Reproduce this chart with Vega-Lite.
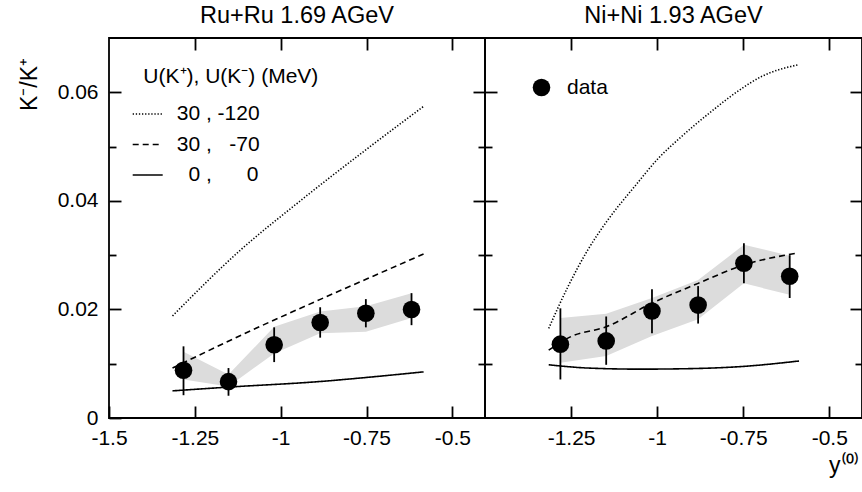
{
  "$schema": "https://vega.github.io/schema/vega-lite/v6.json",
  "autosize": {"type": "pad"},
  "padding": {"left": 17, "top": 2, "right": 0, "bottom": 0},
  "background": "#ffffff",
  "spacing": 0,
  "bounds": "flush",
  "config": {
    "font": "Liberation Sans",
    "view": {"stroke": "#000000", "strokeWidth": 1.8},
    "axis": {"domain": false, "grid": false, "tickColor": "#000000", "tickWidth": 1.8, "labelColor": "#000000", "labelFontSize": 21, "labelFont": "Liberation Sans", "labelFlush": false, "labelOverlap": false, "titleFontWeight": "normal", "titleColor": "#000000", "titleFont": "Liberation Sans"},
    "legend": {"labelFont": "Liberation Sans", "titleFont": "Liberation Sans", "labelColor": "#000000", "titleColor": "#000000", "labelFontSize": 21, "titleFontSize": 21, "titleFontWeight": "normal", "padding": 0, "titleLimit": 400, "labelLimit": 300},
    "title": {"font": "Liberation Sans", "fontSize": 23.5, "fontWeight": "normal", "color": "#000000", "baseline": "alphabetic", "offset": 10, "anchor": "middle"}
  },
  "datasets": {
    "ru_pts": [
      {"x": -1.283, "ratio": 0.0088, "err_lo": 0.0042, "err_hi": 0.0132, "band_lo": 0.0071, "band_hi": 0.0122, "kind": "data"},
      {"x": -1.152, "ratio": 0.0067, "err_lo": 0.0041, "err_hi": 0.0092, "band_lo": 0.0058, "band_hi": 0.0080, "kind": "data"},
      {"x": -1.019, "ratio": 0.0135, "err_lo": 0.0103, "err_hi": 0.0167, "band_lo": 0.0119, "band_hi": 0.0168, "kind": "data"},
      {"x": -0.885, "ratio": 0.0176, "err_lo": 0.0148, "err_hi": 0.0204, "band_lo": 0.0156, "band_hi": 0.0196, "kind": "data"},
      {"x": -0.752, "ratio": 0.0193, "err_lo": 0.0167, "err_hi": 0.0219, "band_lo": 0.0159, "band_hi": 0.0206, "kind": "data"},
      {"x": -0.619, "ratio": 0.0200, "err_lo": 0.0171, "err_hi": 0.0230, "band_lo": 0.0184, "band_hi": 0.0230, "kind": "data"}
    ],
    "ni_pts": [
      {"x": -1.281, "ratio": 0.0136, "err_lo": 0.0071, "err_hi": 0.0202, "band_lo": 0.0102, "band_hi": 0.0184, "kind": "data"},
      {"x": -1.148, "ratio": 0.0142, "err_lo": 0.0098, "err_hi": 0.0187, "band_lo": 0.0114, "band_hi": 0.0192, "kind": "data"},
      {"x": -1.015, "ratio": 0.0197, "err_lo": 0.0156, "err_hi": 0.0237, "band_lo": 0.0151, "band_hi": 0.0221, "kind": "data"},
      {"x": -0.881, "ratio": 0.0208, "err_lo": 0.0174, "err_hi": 0.0243, "band_lo": 0.0182, "band_hi": 0.0254, "kind": "data"},
      {"x": -0.748, "ratio": 0.0285, "err_lo": 0.0248, "err_hi": 0.0322, "band_lo": 0.0248, "band_hi": 0.0319, "kind": "data"},
      {"x": -0.615, "ratio": 0.0261, "err_lo": 0.0221, "err_hi": 0.0300, "band_lo": 0.0227, "band_hi": 0.0299, "kind": "data"}
    ],
    "ru_lines": [
      {"model": "30,-120", "x": -1.315, "ratio": 0.0188},
      {"model": "30,-120", "x": -1.116, "ratio": 0.0310},
      {"model": "30,-120", "x": -0.951, "ratio": 0.0396},
      {"model": "30,-120", "x": -0.75, "ratio": 0.0495},
      {"model": "30,-120", "x": -0.584, "ratio": 0.0574},
      {"model": "30,-70", "x": -1.315, "ratio": 0.0092},
      {"model": "30,-70", "x": -1.1, "ratio": 0.0157},
      {"model": "30,-70", "x": -0.883, "ratio": 0.0219},
      {"model": "30,-70", "x": -0.75, "ratio": 0.0256},
      {"model": "30,-70", "x": -0.584, "ratio": 0.0302},
      {"model": "0,0", "x": -1.315, "ratio": 0.0050},
      {"model": "0,0", "x": -1.15, "ratio": 0.0057},
      {"model": "0,0", "x": -0.89, "ratio": 0.0067},
      {"model": "0,0", "x": -0.745, "ratio": 0.0075},
      {"model": "0,0", "x": -0.584, "ratio": 0.0085}
    ],
    "ni_lines": [
      {"model": "30,-120", "x": -1.315, "ratio": 0.0165},
      {"model": "30,-120", "x": -1.259, "ratio": 0.0242},
      {"model": "30,-120", "x": -1.201, "ratio": 0.0310},
      {"model": "30,-120", "x": -1.143, "ratio": 0.0365},
      {"model": "30,-120", "x": -1.066, "ratio": 0.0426},
      {"model": "30,-120", "x": -0.997, "ratio": 0.0478},
      {"model": "30,-120", "x": -0.930, "ratio": 0.0518},
      {"model": "30,-120", "x": -0.842, "ratio": 0.0565},
      {"model": "30,-120", "x": -0.770, "ratio": 0.0600},
      {"model": "30,-120", "x": -0.697, "ratio": 0.0629},
      {"model": "30,-120", "x": -0.588, "ratio": 0.0651},
      {"model": "30,-70", "x": -1.315, "ratio": 0.0125},
      {"model": "30,-70", "x": -1.25, "ratio": 0.0150},
      {"model": "30,-70", "x": -1.148, "ratio": 0.0168},
      {"model": "30,-70", "x": -1.017, "ratio": 0.0211},
      {"model": "30,-70", "x": -0.881, "ratio": 0.0248},
      {"model": "30,-70", "x": -0.748, "ratio": 0.0282},
      {"model": "30,-70", "x": -0.59, "ratio": 0.0304},
      {"model": "0,0", "x": -1.315, "ratio": 0.0098},
      {"model": "0,0", "x": -1.2, "ratio": 0.0092},
      {"model": "0,0", "x": -1.05, "ratio": 0.0090},
      {"model": "0,0", "x": -0.9, "ratio": 0.0091},
      {"model": "0,0", "x": -0.75, "ratio": 0.0095},
      {"model": "0,0", "x": -0.588, "ratio": 0.0105}
    ]
  },
  "hconcat": [
    {
      "width": 376,
      "height": 380,
      "title": {"text": "Ru+Ru 1.69 AGeV"},
      "layer": [
        {
          "layer": [
            {
              "data": {"name": "ru_pts"},
              "mark": {"type": "area", "color": "#dcdcdc"},
              "encoding": {
                "x": {"field": "x", "type": "quantitative", "scale": {"domain": [-1.5, -0.405], "nice": false, "zero": false},
                  "axis": {"orient": "bottom", "values": [-1.5, -1.25, -1, -0.75, -0.5], "tickSize": -12, "labelPadding": 21, "labelExpr": "'' + datum.value", "title": null}},
                "y": {"field": "band_lo", "type": "quantitative", "scale": {"domain": [0, 0.07], "nice": false},
                  "axis": {"orient": "left", "values": [0, 0.01, 0.02, 0.03, 0.04, 0.05, 0.06],
                    "tickSize": {"condition": {"test": "round(datum.value*100) % 2 == 0", "value": -12}, "value": -7},
                    "labelPadding": 23, "labelExpr": "round(datum.value*100) % 2 == 0 ? '' + datum.value : ''",
                    "title": "K⁻/K⁺", "titleFontSize": 23, "titleX": -80, "titleY": 46, "titleAngle": -90, "titleAlign": "center", "titleBaseline": "middle"}},
                "y2": {"field": "band_hi"}
              }
            },
            {
              "data": {"name": "ru_lines"},
              "mark": {"type": "line", "color": "#000000", "strokeWidth": 1.6, "interpolate": "monotone"},
              "encoding": {
                "x": {"field": "x", "type": "quantitative"},
                "y": {"field": "ratio", "type": "quantitative"},
                "strokeDash": {"field": "model", "type": "nominal",
                  "scale": {"domain": ["30,-120", "30,-70", "0,0"], "range": [[1.3, 1.8], [6, 4], [1, 0]]},
                  "legend": {"orient": "none", "legendX": 22.7, "legendY": 28, "title": "\u200b\u00a0\u00a0U(K⁺), U(K⁻) (MeV)", "titlePadding": 11, "titleLimit": 400,
                    "symbolType": "stroke", "symbolSize": 900, "symbolStrokeColor": "#000000", "symbolStrokeWidth": 1.6,
                    "labelOffset": 13, "rowPadding": 4.5,
                    "labelExpr": "datum.label == '30,-120' ? '30 , -120' : datum.label == '30,-70' ? '30 , \u2007-70' : '\u200b\u20070 , \u2007\u2007\u20080'"}
                }
              }
            },
            {
              "data": {"name": "ru_pts"},
              "mark": {"type": "rule", "color": "#000000", "strokeWidth": 1.8},
              "encoding": {
                "x": {"field": "x", "type": "quantitative"},
                "y": {"field": "err_lo", "type": "quantitative"},
                "y2": {"field": "err_hi"}
              }
            },
            {
              "data": {"name": "ru_pts"},
              "mark": {"type": "point", "filled": true, "color": "#000000", "size": 310, "opacity": 1},
              "encoding": {
                "x": {"field": "x", "type": "quantitative"},
                "y": {"field": "ratio", "type": "quantitative"},
                "shape": {"field": "kind", "type": "nominal", "scale": {"range": ["circle"]}, "legend": null}
              }
            }
          ]
        },
        {
          "data": {"name": "ru_pts"},
          "mark": {"type": "point", "opacity": 0},
          "encoding": {
            "x": {"field": "x", "type": "quantitative", "scale": {"domain": [-1.5, -0.405], "nice": false, "zero": false},
              "axis": {"orient": "top", "values": [-1.25, -1, -0.75, -0.5], "tickSize": -12, "labels": false, "title": null}},
            "y": {"field": "ratio", "type": "quantitative", "scale": {"domain": [0, 0.07], "nice": false},
              "axis": {"orient": "right", "values": [0.01, 0.02, 0.03, 0.04, 0.05, 0.06],
                "tickSize": {"condition": {"test": "round(datum.value*100) % 2 == 0", "value": -12}, "value": -7},
                "labels": false, "title": null}}
          }
        }
      ],
      "resolve": {"scale": {"x": "independent", "y": "independent"}}
    },
    {
      "width": 377,
      "height": 380,
      "title": {"text": "Ni+Ni 1.93 AGeV"},
      "layer": [
        {
          "layer": [
            {
              "data": {"name": "ni_pts"},
              "mark": {"type": "area", "color": "#dcdcdc"},
              "encoding": {
                "x": {"field": "x", "type": "quantitative", "scale": {"domain": [-1.5, -0.405], "nice": false, "zero": false},
                  "axis": {"orient": "bottom", "values": [-1.25, -1, -0.75, -0.5], "tickSize": -12, "labelPadding": 21, "labelExpr": "'' + datum.value",
                    "title": "y⁽⁰⁾", "titleFontSize": 23, "titleX": 373, "titleY": 54, "titleAlign": "right", "titleBaseline": "alphabetic"}},
                "y": {"field": "band_lo", "type": "quantitative", "scale": {"domain": [0, 0.07], "nice": false},
                  "axis": {"orient": "left", "values": [0.01, 0.02, 0.03, 0.04, 0.05, 0.06],
                    "tickSize": {"condition": {"test": "round(datum.value*100) % 2 == 0", "value": -12}, "value": -7},
                    "labels": false, "title": null}},
                "y2": {"field": "band_hi"}
              }
            },
            {
              "data": {"name": "ni_lines"},
              "mark": {"type": "line", "color": "#000000", "strokeWidth": 1.6, "interpolate": "monotone"},
              "encoding": {
                "x": {"field": "x", "type": "quantitative"},
                "y": {"field": "ratio", "type": "quantitative"},
                "strokeDash": {"field": "model", "type": "nominal",
                  "scale": {"domain": ["30,-120", "30,-70", "0,0"], "range": [[1.3, 1.8], [6, 4], [1, 0]]},
                  "legend": null}
              }
            },
            {
              "data": {"name": "ni_pts"},
              "mark": {"type": "rule", "color": "#000000", "strokeWidth": 1.8},
              "encoding": {
                "x": {"field": "x", "type": "quantitative"},
                "y": {"field": "err_lo", "type": "quantitative"},
                "y2": {"field": "err_hi"}
              }
            },
            {
              "data": {"name": "ni_pts"},
              "mark": {"type": "point", "filled": true, "color": "#000000", "size": 310, "opacity": 1},
              "encoding": {
                "x": {"field": "x", "type": "quantitative"},
                "y": {"field": "ratio", "type": "quantitative"},
                "shape": {"field": "kind", "type": "nominal", "scale": {"range": ["circle"]},
                  "legend": {"orient": "none", "legendX": 46, "legendY": 39, "title": null, "symbolSize": 310, "symbolFillColor": "#000000", "symbolStrokeWidth": 0, "labelOffset": 15}}
              }
            }
          ]
        },
        {
          "data": {"name": "ni_pts"},
          "mark": {"type": "point", "opacity": 0},
          "encoding": {
            "x": {"field": "x", "type": "quantitative", "scale": {"domain": [-1.5, -0.405], "nice": false, "zero": false},
              "axis": {"orient": "top", "values": [-1.25, -1, -0.75, -0.5], "tickSize": -12, "labels": false, "title": null}},
            "y": {"field": "ratio", "type": "quantitative", "scale": {"domain": [0, 0.07], "nice": false},
              "axis": {"orient": "right", "values": [0.01, 0.02, 0.03, 0.04, 0.05, 0.06],
                "tickSize": {"condition": {"test": "round(datum.value*100) % 2 == 0", "value": -12}, "value": -7},
                "labels": false, "title": null}}
          }
        }
      ],
      "resolve": {"scale": {"x": "independent", "y": "independent"}}
    }
  ],
  "resolve": {"scale": {"strokeDash": "independent", "shape": "independent"}, "legend": {"strokeDash": "independent", "shape": "independent"}}
}
